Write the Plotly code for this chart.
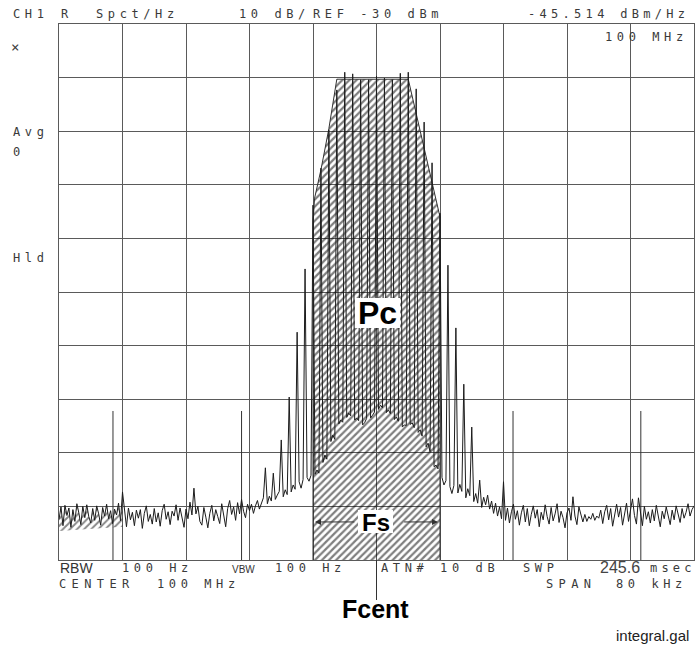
import plotly.graph_objects as go

STEP = 0.25  # kHz between trace points

# ---------------- data (offset from 100 MHz in kHz, level in dBm) ----------------
noise_left_db = [  # -40.00 .. -16.25 kHz
    -122.4, -120.1, -123.6, -119.8, -121.7, -120.3, -123.9, -120.6,
    -122.8, -119.5, -121.2, -123.4, -120.0, -122.1, -119.7, -121.9,
    -123.1, -120.4, -122.6, -119.9, -121.4, -123.5, -120.2, -121.8,
    -119.6, -122.3, -120.8, -123.2, -120.5, -121.6, -119.4, -122.7,
    -117.3, -121.0, -123.8, -120.3, -122.5, -121.1, -123.6, -120.7,
    -122.2, -120.6, -124.1, -121.3, -119.9, -122.8, -121.5, -123.3,
    -120.4, -122.9, -121.2, -123.7, -120.8, -119.6, -122.4, -121.0,
    -123.4, -120.9, -121.8, -119.7, -122.6, -120.3, -121.9, -123.9,
    -120.5, -122.3, -119.2, -121.6, -116.6, -121.4, -120.0, -122.8,
    -123.5, -120.2, -122.0, -124.0, -121.3, -119.8, -122.7, -120.6,
    -121.9, -123.2, -119.5, -121.7, -123.8, -120.4, -118.9, -121.5,
    -120.1, -122.6, -119.3, -121.4, -118.7, -120.9, -122.1, -119.6,
]
skirt_left_floor_db = [  # -16.00 .. -8.25 kHz
    -120.8, -119.6, -121.3, -119.9, -118.9, -120.5, -119.2, -118.4,
    -118.8, -119.5, -118.1, -119.0, -117.6, -118.7, -117.9, -117.2,
    -117.5, -118.2, -116.9, -117.8, -116.4, -117.3, -116.0, -116.8,
    -116.2, -115.4, -116.6, -115.0, -115.8, -114.6, -115.3, -114.2,
]
carrier_f = [-8, -7, -6, -5, -4, -3, -2, -1, 0, 1, 2, 3, 4, 5, 6, 7, 8]
carrier_db = [-63.8, -56.9, -49.8, -42.3, -39.0, -39.3, -40.4, -40.4, -39.7,
              -40.1, -40.4, -39.2, -39.0, -42.1, -48.3, -55.9, -65.3]
center_valley_db = [  # 3 points between neighbouring carrier lines
    -114.0, -113.2, -113.8, -111.8, -110.4, -111.2, -107.9, -106.7, -107.5,
    -104.6, -103.9, -104.3, -103.4, -102.6, -103.1, -103.9, -103.5, -104.0,
    -104.8, -104.4, -103.6, -103.5, -103.0, -102.4, -101.9, -101.1, -101.6,
    -102.5, -102.0, -102.7, -103.8, -103.3, -104.1, -105.2, -104.8, -104.9,
    -104.7, -104.4, -105.3, -106.2, -105.7, -106.9, -108.9, -108.2, -109.8,
    -112.6, -112.3, -113.0,
]
skirt_right_floor_db = [  # 8.25 .. 16.00 kHz
    -114.6, -116.0, -115.2, -115.0, -116.3, -117.6, -116.1, -116.8,
    -117.5, -115.9, -117.2, -117.0, -118.4, -116.7, -118.0, -118.2,
    -119.1, -117.6, -119.4, -118.8, -120.2, -118.3, -119.7, -117.9,
    -120.5, -119.0, -121.3, -119.4, -121.8, -120.1, -122.3, -120.5,
]
noise_right_db = [  # 16.25 .. 40.00 kHz
    -122.6, -120.3, -123.1, -121.0, -119.6, -122.4, -120.8, -123.5,
    -121.2, -119.8, -122.9, -120.4, -123.6, -121.5, -119.9, -122.2,
    -120.6, -123.8, -121.1, -122.5, -119.7, -121.9, -123.3, -120.2,
    -122.7, -121.4, -119.5, -123.0, -120.9, -122.1, -124.0, -121.2,
    -120.3, -122.6, -118.2, -121.8, -123.4, -120.1, -121.7, -122.9,
    -121.5, -122.8, -121.9, -122.4, -121.3, -122.6, -121.8, -122.2,
    -120.7, -123.2, -121.0, -119.8, -122.5, -120.4, -123.7, -121.3,
    -119.6, -122.0, -120.2, -123.5, -121.1, -119.4, -122.8, -120.5,
    -118.6, -121.7, -123.3, -118.4, -121.2, -123.6, -120.0, -122.4,
    -121.0, -123.1, -120.6, -122.7, -119.8, -121.9, -123.8, -120.9,
    -122.3, -120.1, -121.6, -123.4, -120.7, -122.5, -119.9, -121.3,
    -123.0, -120.4, -122.2, -121.1, -119.5, -121.8, -120.6, -119.9,
]
skirt_line_f = [-14, -13, -12, -11, -10, -9, 9, 10, 11, 12, 13, 16]
skirt_line_db = [-112.8, -113.8, -107.6, -99.6, -87.5, -75.7,
                 -75.0, -86.7, -97.2, -105.2, -115.1, -115.4]

marker_f = [-33.2, -17.0, 17.2, 33.3]
marker_top_db = -102.2

hatch_f = [-8, -8, -7.8, -7.0, -6.0, -5.0, 4.0, 7.9, 8.0, 8.0]
hatch_db = [-130, -67.0, -62.5, -57.2, -49.5, -40.3, -40.3, -65.3, -66.0, -130]

band_f = [-40, -32]
band_low_db = [-124.6, -123.8]

Y_MIN, Y_MAX = -130, -30
X_MIN, X_MAX = -40, 40

# ---------------- assemble trace ----------------
f_all, db_all = [], []


def add(start, vals):
    for i, v in enumerate(vals):
        f_all.append(round(start + i * STEP, 2))
        db_all.append(v)


add(-40, noise_left_db)
add(-16, skirt_left_floor_db)
for i, n in enumerate(carrier_f[:-1]):
    f_all.append(n)
    db_all.append(carrier_db[i])
    for j, v in enumerate(center_valley_db[3 * i:3 * i + 3]):
        f_all.append(round(n + (j + 1) * STEP, 2))
        db_all.append(v)
f_all.append(carrier_f[-1])
db_all.append(carrier_db[-1])
add(8.25, skirt_right_floor_db)
add(16.25, noise_right_db)
lines = dict(zip(skirt_line_f, skirt_line_db))
for k, f in enumerate(f_all):
    if f in lines:
        db_all[k] = lines[f]

GRID = '#5a5a5a'
INK = '#1c1c1c'

fig = go.Figure()

# hatched integration area
fig.add_trace(go.Scatter(
    x=hatch_f, y=hatch_db, mode='lines', fill='toself',
    fillcolor='rgba(0,0,0,0)',
    fillpattern=dict(shape='/', fgcolor='#000000', bgcolor='rgba(0,0,0,0)', size=5, solidity=0.45),
    line=dict(color='#333333', width=1), hoverinfo='skip'))

# small hatched band at the far left
n_band = int((band_f[1] - band_f[0]) / STEP) + 1
bx = f_all[:n_band] + band_f[::-1]
by = db_all[:n_band] + band_low_db[::-1]
fig.add_trace(go.Scatter(
    x=bx, y=by, mode='lines', fill='toself', fillcolor='rgba(0,0,0,0)',
    fillpattern=dict(shape='/', fgcolor='#111111', bgcolor='rgba(0,0,0,0)', size=5, solidity=0.4),
    line=dict(color='rgba(0,0,0,0)', width=0), hoverinfo='skip'))

# marker lines
mx, my = [], []
for f in marker_f:
    mx += [f, f, None]
    my += [Y_MIN, marker_top_db, None]
fig.add_trace(go.Scatter(x=mx, y=my, mode='lines', line=dict(color='#333333', width=1), hoverinfo='skip'))

# spectrum trace
fig.add_trace(go.Scatter(x=f_all, y=db_all, mode='lines', line=dict(color=INK, width=1), hoverinfo='skip'))

FIG_W, FIG_H = 696, 649
ML, MT = 59, 24
PW, PH = 635, 536


def px(x):
    return (x - ML) / PW


def py(y):
    return (MT + PH - y) / PH


ann = []


def hp(x, y, s, size=12, spacing=4.6, color='#3a3a3a', family='DejaVu Sans Mono'):
    ann.append(dict(xref='paper', yref='paper', x=px(x - 2), y=py(y), xanchor='left', yanchor='middle',
                    showarrow=False,
                    text=f'<span style="letter-spacing:{spacing}px">{s}</span>',
                    font=dict(family=family, size=size, color=color)))


def plain(x, y, s, size, family='Liberation Sans', color='#222222', xanchor='left', weight='normal'):
    ann.append(dict(xref='paper', yref='paper', x=px(x), y=py(y), xanchor=xanchor, yanchor='middle',
                    showarrow=False, text=s,
                    font=dict(family=family, size=size, color=color, weight=weight)))


# top row
hp(13, 14, 'CH1')
hp(61, 14, 'R')
hp(96, 14, 'Spct/Hz')
hp(239, 14, '10 dB/')
hp(313, 14, 'REF -30 dBm')
hp(528, 14, '-45.514 dBm/Hz', spacing=4.3)
# left column
hp(11, 47, '×', size=14)
hp(13, 132, 'Avg')
hp(13, 152, '0')
hp(13, 258, 'Hld')
# top right inside
hp(605, 37, '100 MHz')
# bottom rows
plain(58, 568, 'RBW', 14, color='#333333')
hp(122, 568, '100 Hz')
plain(230, 569, 'VBW', 10, color='#333333')
hp(275, 568, '100 Hz')
hp(381, 568, 'ATN# 10 dB')
hp(523, 568, 'SWP')
plain(598, 567, '245.6', 16, color='#444444')
hp(650, 568, 'msec', spacing=4.2)
hp(59, 584, 'CENTER', spacing=5.4)
hp(157, 584, '100 MHz')
hp(546, 584, 'SPAN', spacing=5.4)
hp(616, 584, '80 kHz')

# bold labels
plain(378, 313, 'Pc', 32, xanchor='center', color='#000000', weight='bold')
plain(375.5, 522, 'Fs', 24, xanchor='center', color='#000000', weight='bold')
plain(375.5, 609, 'Fcent', 25, xanchor='center', color='#000000', weight='bold')
plain(691, 635, 'integral.gal', 15, xanchor='right', color='#222222')

# Fs arrows
for tip, tail in [(-7.75, -2.6), (7.75, 3.3)]:
    ann.append(dict(xref='x', yref='y', x=tip, y=-122.9, ax=tail, ay=-122.9, axref='x', ayref='y',
                    text='', showarrow=True, arrowhead=2, arrowsize=1.2, arrowwidth=1,
                    arrowcolor='#333333', standoff=0))

shapes = [
    dict(type='rect', xref='paper', yref='paper', x0=px(355), x1=px(400), y0=py(328), y1=py(298),
         fillcolor='white', line=dict(width=0), layer='above'),
    dict(type='rect', xref='paper', yref='paper', x0=px(358), x1=px(393), y0=py(533), y1=py(510),
         fillcolor='white', line=dict(width=0), layer='above'),
    dict(type='line', xref='paper', yref='paper', x0=px(376.5), x1=px(376.5), y0=py(600), y1=py(560),
         line=dict(color='#333333', width=1)),
]

axis_common = dict(showgrid=True, gridcolor=GRID, gridwidth=1, zeroline=False, showticklabels=False,
                   ticks='', showline=True, mirror=True, linecolor=GRID, linewidth=1, fixedrange=True)

fig.update_layout(
    width=FIG_W, height=FIG_H, margin=dict(l=ML, r=FIG_W - ML - PW, t=MT, b=FIG_H - MT - PH),
    paper_bgcolor='white', plot_bgcolor='white', showlegend=False,
    xaxis=dict(range=[X_MIN, X_MAX], dtick=8, tick0=0, **axis_common),
    yaxis=dict(range=[Y_MIN, Y_MAX], dtick=10, tick0=Y_MIN, **axis_common),
    annotations=ann, shapes=shapes,
)

# remove the browser's default page margin so the figure fills the 696x649 window exactly
fig.write_html("out.html", config={'displayModeBar': False, 'staticPlot': True},
               post_script="document.body.style.margin='0';document.body.style.overflow='hidden';")
